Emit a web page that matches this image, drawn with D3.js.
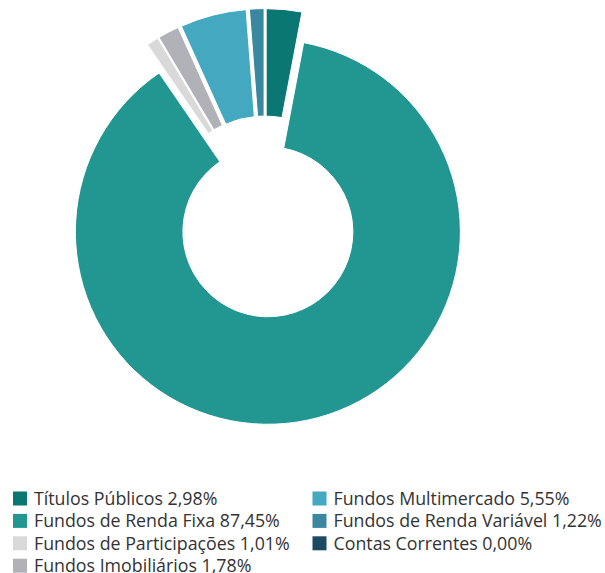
<!DOCTYPE html>
<html>
<head>
  <meta charset="utf-8">
  <script src="https://d3js.org/d3.v7.min.js"></script>
  <style>
    body { margin: 0; background: #fff; }
    .legend text {
      font-family: "Open Sans", sans-serif;
      font-size: 17.8px;
      fill: #333;
    }
  </style>
</head>
<body>
  <script>

    // data
    var labels = ["Títulos Públicos", "Fundos de Renda Fixa", "Fundos de Participações",
                  "Fundos Imobiliários", "Fundos Multimercado", "Fundos de Renda Variável",
                  "Contas Correntes"];
    var values = [2.98, 87.45, 1.01, 1.78, 5.55, 1.22, 0.00];
    var colors = ["#0b7773", "#229792", "#d9d9d9", "#b0b2b7", "#44a8c0", "#3a88a0", "#1d4a63"];

    var width = 605, height = 573;
    var cx = 264.7, cy = 216.6,
        outerR = 192.5, innerR = 85,
        sliceOffset = 15.5;

    var svg = d3.select("body").append("svg")
        .attr("width", width)
        .attr("height", height);

    var pie = d3.pie().sort(null).value(function(d) { return d; });
    var arc = d3.arc().innerRadius(innerR).outerRadius(outerR);
    var arcs = pie(values);

    // every slice is pulled out along its middle angle
    svg.append("g")
        .attr("transform", "translate(" + cx + "," + cy + ")")
      .selectAll("path")
        .data(arcs)
      .enter().append("path")
        .attr("d", arc)
        .attr("fill", function(d, i) { return colors[i]; })
        .attr("stroke", "#fff")
        .attr("stroke-width", 1)
        .attr("transform", function(d) {
          var a = (d.startAngle + d.endAngle) / 2;
          return "translate(" + (Math.sin(a) * sliceOffset) + "," + (-Math.cos(a) * sliceOffset) + ")";
        });

    // legend: two columns, left fills first
    var legend = svg.append("g").attr("class", "legend");
    var rowH = 22.4, colX = [13, 312.5], legendTop = 491.5;

    var items = legend.selectAll("g")
        .data(labels)
      .enter().append("g")
        .attr("transform", function(d, i) {
          var col = i < 4 ? 0 : 1, row = i < 4 ? i : i - 4;
          return "translate(" + colX[col] + "," + (legendTop + row * rowH) + ")";
        });

    items.append("rect")
        .attr("width", 14)
        .attr("height", 14)
        .attr("fill", function(d, i) { return colors[i]; });

    items.append("text")
        .attr("x", 21)
        .attr("y", 7)
        .attr("dy", "0.36em")
        .text(function(d, i) { return d + " " + values[i].toFixed(2).replace(".", ",") + "%"; });

  </script>
</body>
</html>
